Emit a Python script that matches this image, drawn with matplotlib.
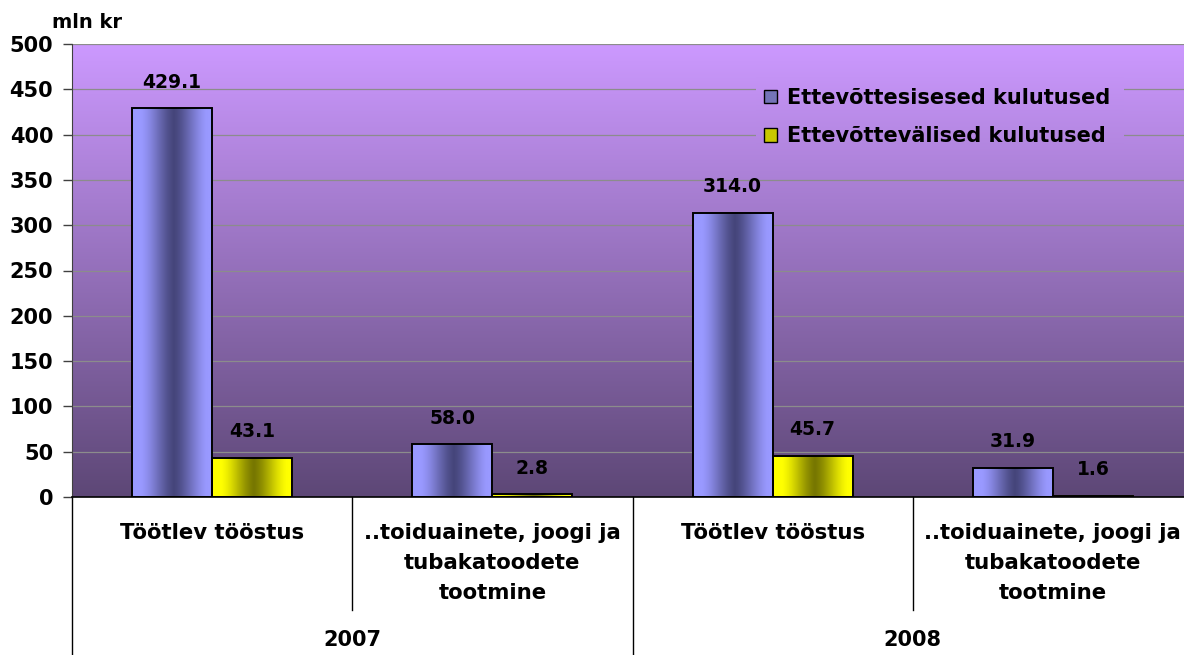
import numpy as np
import matplotlib
matplotlib.use("Agg")
import matplotlib.pyplot as plt
from matplotlib.patches import Patch
from matplotlib.colors import to_rgb

# ---- data ----
years = ["2007", "2008"]
categories = ["Töötlev tööstus", "..toiduainete, joogi ja\ntubakatoodete\ntootmine",
              "Töötlev tööstus", "..toiduainete, joogi ja\ntubakatoodete\ntootmine"]
series_names = ["Ettevõttesisesed kulutused", "Ettevõttevälised kulutused"]
sisesed = [429.1, 58.0, 314.0, 31.9]
valised = [43.1, 2.8, 45.7, 1.6]
y_ticks = [0, 50, 100, 150, 200, 250, 300, 350, 400, 450, 500]
y_label = "mln kr"

FONT = "DejaVu Sans"
plt.rcParams["font.family"] = [FONT]
plt.rcParams["font.weight"] = "bold"

W, H = 1184, 655
fig = plt.figure(figsize=(W / 100, H / 100), dpi=100)
fig.patch.set_facecolor("white")
ax_left, ax_bottom, ax_top = 72, 497, 44
ax_w = 1121
ax = fig.add_axes([ax_left / W, (H - ax_bottom) / H, ax_w / W, (ax_bottom - ax_top) / H])

n = len(categories)
x = np.arange(n)
bw = 0.2857
XL = (-0.5, n - 0.5)
YL = (0, 500)

top_c = np.array(to_rgb("#CC99FF"))
bot_c = np.array(to_rgb("#5D4776"))

def bg_rows(v0, v1, rows=300):
    t = np.linspace(v1, v0, rows)[:, None] / YL[1]
    c = bot_c + (top_c - bot_c) * t
    return np.repeat(c[:, None, :], 2, axis=1).reshape(rows, 2, 3)

ax.imshow(bg_rows(0, 500), extent=[XL[0], XL[1], 0, 500], aspect="auto", zorder=0,
          interpolation="bilinear")

# grid
ax.set_axisbelow(True)
ax.yaxis.grid(True, color="#8c8c8c", linewidth=0.9)
ax.xaxis.grid(False)

# cover gridlines behind legend
lx0, lx1, ly0, ly1 = 1.94, 3.25, 390, 478
ax.imshow(bg_rows(ly0, ly1, 100), extent=[lx0, lx1, ly0, ly1], aspect="auto",
          zorder=0.8, interpolation="bilinear")

def bar_grad(light, dark, cols=200):
    u = np.linspace(0, 1, cols)
    t = np.abs(u - 0.52) / 0.52
    s = np.clip(t / 0.78, 0, 1)
    f = 0.5 * s + 0.5 * (s * s * (3 - 2 * s))
    L = np.array(to_rgb(light)); D = np.array(to_rgb(dark))
    c = D + (L - D) * f[:, None]
    return c[None, :, :]

blue_img = bar_grad("#9999FF", "#45457A")
yel_img = bar_grad("#FFFF00", "#767600")

def draw_bars(vals, offset, img):
    rects = ax.bar(x + offset, vals, bw, facecolor="none", edgecolor="black",
                   linewidth=1.4, zorder=3)
    for r in rects:
        x0, y0 = r.get_x(), r.get_y()
        ax.imshow(img, extent=[x0, x0 + r.get_width(), y0, y0 + r.get_height()],
                  aspect="auto", zorder=2, interpolation="bilinear")
    for r, v in zip(rects, vals):
        ax.annotate(f"{v:.1f}", (r.get_x() + r.get_width() / 2, r.get_height()),
                    xytext=(0, 12), textcoords="offset points", ha="center", va="bottom",
                    fontsize=13.5, fontweight="bold", color="black", zorder=4)

draw_bars(sisesed, -bw / 2, blue_img)
draw_bars(valised, bw / 2, yel_img)

ax.set_xlim(*XL)
ax.set_ylim(*YL)
ax.set_yticks(y_ticks)
ax.set_yticklabels([str(t) for t in y_ticks], fontsize=15, fontweight="bold")
ax.tick_params(axis="y", direction="out", length=6.5, width=1, color="#404040", pad=7)
ax.set_xticks([])
for s in ["top", "right"]:
    ax.spines[s].set_visible(False)
ax.spines["left"].set_color("#404040")
ax.spines["bottom"].set_color("black")
ax.spines["bottom"].set_linewidth(1.2)

# category labels
tr = ax.get_xaxis_transform()
for xi, lab in zip(x, categories):
    ax.text(xi, -0.058, lab, transform=tr, ha="center", va="top", fontsize=15.3,
            fontweight="bold", linespacing=1.62, clip_on=False)

# separators
px = 1 / (ax_bottom - ax_top)
for i in range(1, n):
    low = -0.36 if i % 2 == 0 else -113 * px
    ax.plot([i - 0.5, i - 0.5], [0, low], transform=tr, color="black", lw=1, clip_on=False)
ax.plot([-0.5, -0.5], [0, -0.36], transform=tr, color="black", lw=1, clip_on=False)

# year labels
for k, yr in enumerate(years):
    ax.text(2 * k + 0.5, -143 * px, yr, transform=tr, ha="center", va="center",
            fontsize=15, fontweight="bold", clip_on=False)

# y label
ax.text(-20 / ax_w, 1 + 22 * px, y_label, transform=ax.transAxes, ha="left", va="center",
        fontsize=14, fontweight="bold", clip_on=False)

handles = [Patch(facecolor="#7474B8", edgecolor="black", linewidth=1),
           Patch(facecolor="#C8C800", edgecolor="black", linewidth=1)]
leg = ax.legend(handles, series_names, loc="upper left", bbox_to_anchor=(0.61, 0.922),
                frameon=False, fontsize=15, handlelength=0.6, handleheight=0.6,
                handletextpad=0.5, labelspacing=0.9, borderaxespad=0)
for t in leg.get_texts():
    t.set_fontweight("bold")
leg.set_zorder(5)

fig.savefig("out.png", dpi=100)
